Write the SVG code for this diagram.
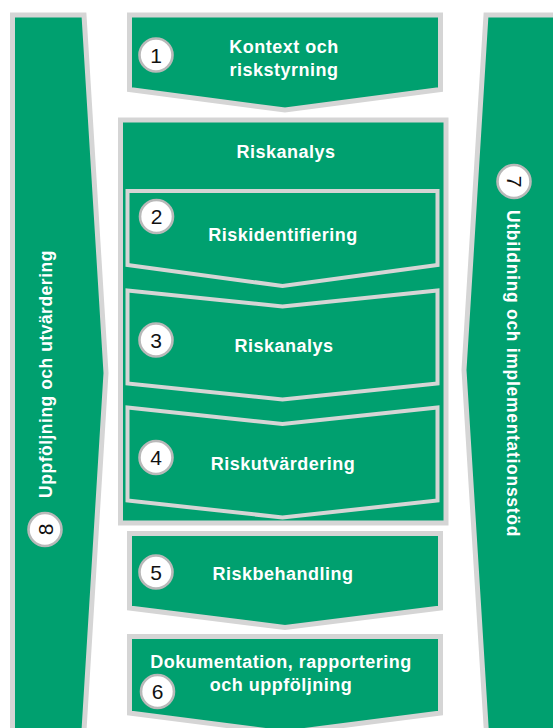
<svg xmlns="http://www.w3.org/2000/svg" width="553" height="728" viewBox="0 0 553 728">
  <defs>
    <style>
      .bar { fill: #00a06f; stroke: #d5d5d5; stroke-width: 5; stroke-linejoin: miter; }
      .box { fill: #00a06f; stroke: #d5d5d5; stroke-width: 5; stroke-linejoin: miter; }
      .inner { fill: #00a06f; stroke: #d5d5d5; stroke-width: 4; stroke-linejoin: miter; }
      .badge { fill: #ffffff; stroke: #b9b9b9; stroke-width: 2.6; }
      .num { font-family: "Liberation Sans", Arial, sans-serif; font-size: 21px; fill: #111111; text-anchor: middle; }
      .lbl { font-family: "Liberation Sans", Arial, sans-serif; font-size: 18px; font-weight: bold; fill: #ffffff; text-anchor: middle; letter-spacing: 0.5px; }
      .vlbl { font-family: "Liberation Sans", Arial, sans-serif; font-size: 17.5px; font-weight: bold; fill: #ffffff; text-anchor: middle; }
    </style>
  </defs>
  <rect width="553" height="728" fill="#ffffff"/>

  <g id="node8">
    <polygon class="bar" points="12.5,15 84,15 106,373 83.4,740 12.5,740"/>
    <circle class="badge" cx="45" cy="529.5" r="16.5"/>
    <text class="num" transform="translate(45,529.5) rotate(-90)" x="0" y="7.5">8</text>
    <text class="vlbl" style="letter-spacing:0.5px" transform="translate(52,374) rotate(-90)" x="0" y="0">Uppföljning och utvärdering</text>
  </g>

  <g id="node7">
    <polygon class="bar" points="486,15 560,15 560,740 486.9,740 464,370"/>
    <circle class="badge" cx="514" cy="181.5" r="16.5"/>
    <text class="num" transform="translate(514,181.5) rotate(90)" x="0" y="7.5">7</text>
    <text class="vlbl" style="letter-spacing:0.7px" transform="translate(507,373.5) rotate(90)" x="0" y="0">Utbildning och implementationsstöd</text>
  </g>

  <g id="node1">
    <polygon class="box" points="129.5,15 440.5,15 440.5,89.5 285,110 129.5,89.5"/>
    <circle class="badge" cx="156" cy="55" r="16.5"/>
    <text class="num" x="156" y="62.5">1</text>
    <text class="lbl" x="284" y="53">Kontext och</text>
    <text class="lbl" x="284" y="76">riskstyrning</text>
  </g>

  <g id="riskanalys-group">
    <rect class="box" x="120.5" y="120" width="325.5" height="403"/>
    <text class="lbl" x="286" y="158">Riskanalys</text>
  </g>

  <g id="node2">
    <polygon class="inner" points="127.5,191 437.5,191 437.5,265 282.5,286 127.5,265"/>
    <circle class="badge" cx="156.5" cy="216.5" r="16.5"/>
    <text class="num" x="156.5" y="224">2</text>
    <text class="lbl" x="283" y="241">Riskidentifiering</text>
  </g>

  <g id="node3">
    <polygon class="inner" points="127.5,290.5 282.5,306.5 437.5,290.5 437.5,383.5 282.5,399.5 127.5,383.5"/>
    <circle class="badge" cx="156" cy="340" r="16.5"/>
    <text class="num" x="156" y="347.5">3</text>
    <text class="lbl" x="284" y="352">Riskanalys</text>
  </g>

  <g id="node4">
    <polygon class="inner" points="127.5,407.5 282.5,424 437.5,407.5 437.5,500.5 282.5,517.5 127.5,500.5"/>
    <circle class="badge" cx="156" cy="457.5" r="16.5"/>
    <text class="num" x="156" y="465">4</text>
    <text class="lbl" x="283" y="470">Riskutvärdering</text>
  </g>

  <g id="node5">
    <polygon class="box" points="129.5,533.5 440.5,533.5 440.5,608 285,627.5 129.5,608"/>
    <circle class="badge" cx="156" cy="572" r="16.5"/>
    <text class="num" x="156" y="579.5">5</text>
    <text class="lbl" x="283" y="580">Riskbehandling</text>
  </g>

  <g id="node6">
    <polygon class="box" points="129.5,636.5 440.5,636.5 440.5,713 285,733 129.5,713"/>
    <circle class="badge" cx="157.5" cy="691.5" r="16.5"/>
    <text class="num" x="157.5" y="699">6</text>
    <text class="lbl" x="281" y="668">Dokumentation, rapportering</text>
    <text class="lbl" x="281" y="691">och uppföljning</text>
  </g>

  <g id="connectors"></g>
</svg>
